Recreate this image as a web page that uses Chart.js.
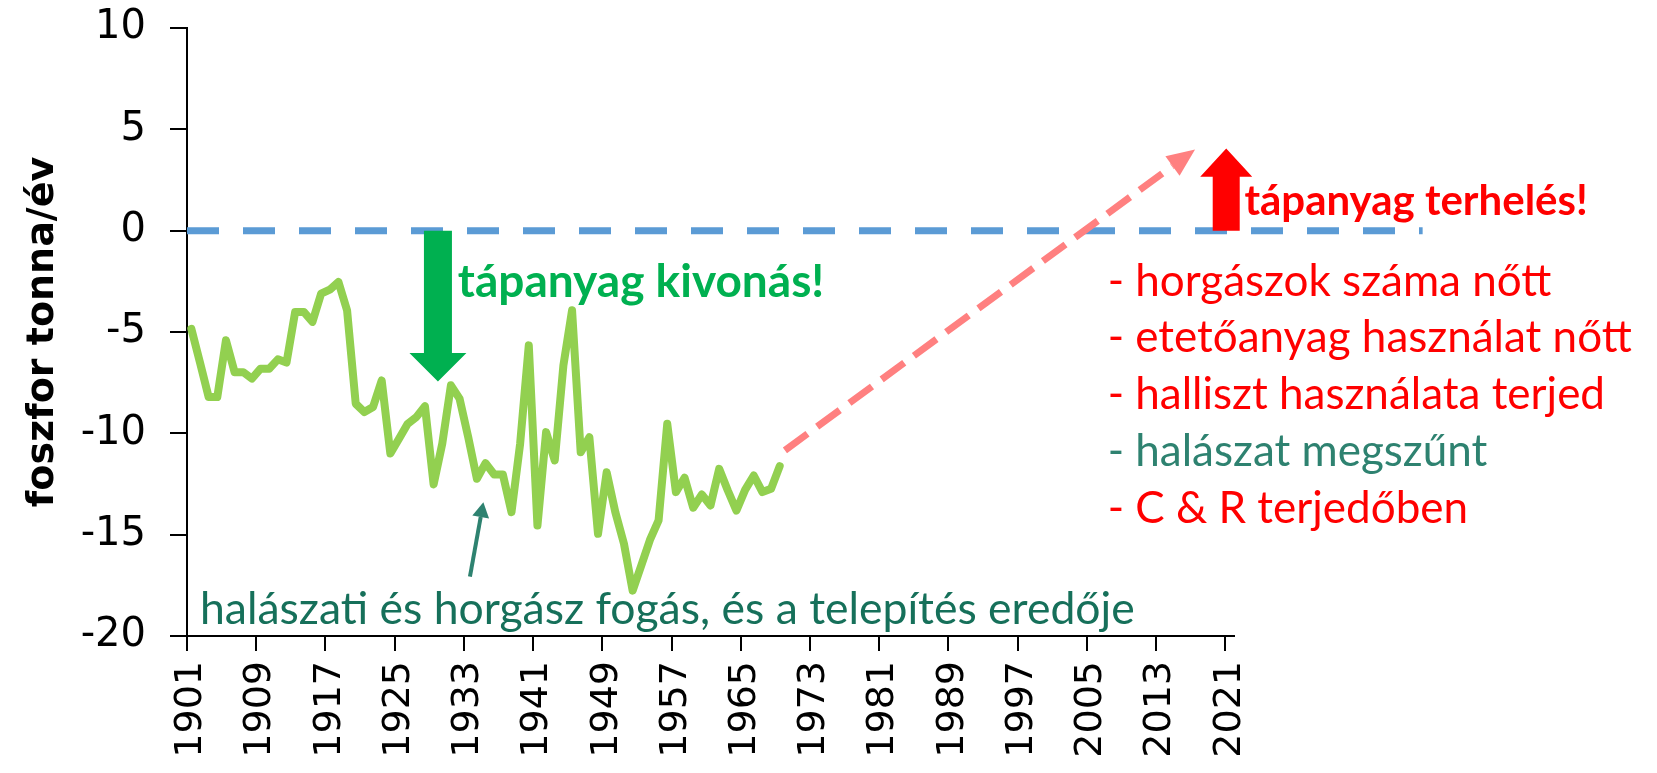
<!DOCTYPE html>
<html>
<head>
<meta charset="utf-8">
<script src="https://cdn.jsdelivr.net/npm/chart.js@4.4.1/dist/chart.umd.min.js"></script>
<style>
  html, body { margin: 0; padding: 0; background: #fff; }
  #wrap { width: 1657px; height: 773px; }
</style>
</head>
<body>
<div id="wrap"><canvas id="chart" width="1657" height="773"></canvas></div>
<script>
// foszfor mérleg, tonna/év (leolvasva)
const firstYear = 1901;
const lastYear = 2021;
const tickYears = [1901, 1909, 1917, 1925, 1933, 1941, 1949, 1957, 1965, 1973, 1981, 1989, 1997, 2005, 2013, 2021];
const yTicks = [-20, -15, -10, -5, 0, 5, 10];

// 1901 - 1969
const phosphorus = [
    -4.84, -6.5, -8.21, -8.21, -5.41, -6.98, -6.98, -7.3, -6.81, -6.81,
    -6.35, -6.51, -4.01, -4.01, -4.5, -3.11, -2.91, -2.53, -3.93, -8.54,
    -8.95, -8.7, -7.39, -11.0, -10.27, -9.53, -9.2, -8.66, -12.52, -10.51,
    -7.63, -8.29, -10.19, -12.24, -11.47, -12.03, -12.03, -13.89, -10.51, -5.66,
    -14.55, -9.94, -11.34, -6.65, -3.93, -10.93, -10.19, -14.96, -11.92, -13.89,
    -15.45, -17.76, -16.52, -15.26, -14.3, -9.53, -12.9, -12.19, -13.67, -13.02,
    -13.56, -11.75, -12.82, -13.81, -12.79, -12.08, -12.9, -12.74, -11.62
];

const years = [];
for (let y = firstYear; y <= lastYear; y++) years.push(y);

const yTitle = 'foszfor tonna/év';
const downLabel = 'tápanyag kivonás!';
const upLabel = 'tápanyag terhelés!';
const listLines = [
    '- horgászok száma nőtt',
    '- etetőanyag használat nőtt',
    '- halliszt használata terjed',
    '- halászat megszűnt',
    '- C & R terjedőben'
];
const listColors = ['#FF0000', '#FF0000', '#FF0000', '#2E8270', '#FF0000'];
const bottomLabel = 'halászati és horgász fogás, és a telepítés eredője';

// annotation anchors in data units: [year, value]
const zeroLine = [[1900.5, 0], [2043.3, 0]];
const trendArrow = [[1969.6, -10.84], [2017.0, 4.01]];
const downArrow = { year: 1929.5, from: 0, head: -6.04, tip: -7.44 };
const upArrow = { year: 2020.6, from: 0, head: 2.66, tip: 4.06 };
const catchArrow = [[1933.2, -17.07], [1934.75, -13.4]];
const downLabelAt = [1931.8, -3.25];
const upLabelAt = [2022.7, 0.75];
const listAt = [2006.9, -3.2];
const listStep = 2.8;
const bottomLabelAt = [1902.0, -19.4];

const font = 'Lato, "Open Sans", sans-serif';
const tickFont = '"DejaVu Sans", sans-serif';

function drawBlockArrow(ctx, cx, y0, yHead, yTip, shaftW, headW, color) {
    ctx.save();
    ctx.fillStyle = color;
    ctx.beginPath();
    ctx.moveTo(cx - shaftW / 2, y0);
    ctx.lineTo(cx + shaftW / 2, y0);
    ctx.lineTo(cx + shaftW / 2, yHead);
    ctx.lineTo(cx + headW / 2, yHead);
    ctx.lineTo(cx, yTip);
    ctx.lineTo(cx - headW / 2, yHead);
    ctx.lineTo(cx - shaftW / 2, yHead);
    ctx.closePath();
    ctx.fill();
    ctx.restore();
}

function drawLineArrow(ctx, x0, y0, x1, y1, opts) {
    const ang = Math.atan2(y1 - y0, x1 - x0);
    const bx = x1 - Math.cos(ang) * opts.headLen;
    const by = y1 - Math.sin(ang) * opts.headLen;
    ctx.save();
    ctx.strokeStyle = opts.color;
    ctx.lineWidth = opts.width;
    ctx.setLineDash(opts.dash || []);
    ctx.beginPath();
    ctx.moveTo(x0, y0);
    ctx.lineTo(bx, by);
    ctx.stroke();
    ctx.setLineDash([]);
    ctx.fillStyle = opts.color;
    ctx.beginPath();
    ctx.moveTo(x1, y1);
    ctx.lineTo(bx + Math.sin(ang) * opts.headW / 2, by - Math.cos(ang) * opts.headW / 2);
    ctx.lineTo(bx - Math.sin(ang) * opts.headW / 2, by + Math.cos(ang) * opts.headW / 2);
    ctx.closePath();
    ctx.fill();
    ctx.restore();
}

const annotations = {
    id: 'annotations',
    afterDraw(chart) {
        const ctx = chart.ctx;
        const xs = chart.scales.x;
        const ys = chart.scales.y;
        const px = yr => xs.getPixelForValue(yr - firstYear);
        const py = v => ys.getPixelForValue(v);

        // zero line
        ctx.save();
        ctx.strokeStyle = '#5B9BD5';
        ctx.lineWidth = 7;
        ctx.setLineDash([32, 24]);
        ctx.beginPath();
        ctx.moveTo(px(zeroLine[0][0]), py(zeroLine[0][1]));
        ctx.lineTo(px(zeroLine[1][0]), py(zeroLine[1][1]));
        ctx.stroke();
        ctx.restore();

        // trend arrow
        drawLineArrow(ctx, px(trendArrow[0][0]), py(trendArrow[0][1]), px(trendArrow[1][0]), py(trendArrow[1][1]),
            { color: '#FF8080', width: 7, dash: [28, 12], headLen: 28, headW: 24 });

        // block arrows
        drawBlockArrow(ctx, px(downArrow.year), py(downArrow.from), py(downArrow.head), py(downArrow.tip), 28, 57, '#00B050');
        drawBlockArrow(ctx, px(upArrow.year), py(upArrow.from), py(upArrow.head), py(upArrow.tip), 27, 52, '#FF0000');

        // catch arrow
        drawLineArrow(ctx, px(catchArrow[0][0]), py(catchArrow[0][1]), px(catchArrow[1][0]), py(catchArrow[1][1]),
            { color: '#2E8270', width: 4, headLen: 15, headW: 17 });

        ctx.save();
        ctx.textAlign = 'left';
        ctx.textBaseline = 'alphabetic';
        ctx.font = 'bold 46px ' + font;
        ctx.fillStyle = '#00B050';
        ctx.fillText(downLabel, px(downLabelAt[0]), py(downLabelAt[1]));
        ctx.font = 'bold 42px ' + font;
        ctx.fillStyle = '#FF0000';
        ctx.fillText(upLabel, px(upLabelAt[0]), py(upLabelAt[1]));

        ctx.font = '44px ' + font;
        listLines.forEach((line, i) => {
            ctx.fillStyle = listColors[i];
            ctx.fillText(line, px(listAt[0]), py(listAt[1] - i * listStep));
        });

        ctx.font = '44.5px ' + font;
        ctx.fillStyle = '#16705A';
        ctx.fillText(bottomLabel, px(bottomLabelAt[0]), py(bottomLabelAt[1]));
        ctx.restore();
    }
};

const ctx = document.getElementById('chart').getContext('2d');
const chart = new Chart(ctx, {
    type: 'line',
    data: {
        labels: years,
        datasets: [{
            data: phosphorus,
            borderColor: '#92D050',
            borderWidth: 8,
            pointRadius: 0,
            tension: 0,
            borderJoinStyle: 'round',
            borderCapStyle: 'round',
            fill: false
        }]
    },
    options: {
        responsive: false,
        animation: false,
        layout: { padding: { top: 28, right: 423, left: 0, bottom: 0 } },
        plugins: {
            legend: { display: false },
            tooltip: { enabled: false }
        },
        scales: {
            x: {
                type: 'category',
                offset: true,
                border: { color: '#000', width: 2 },
                grid: {
                    offset: true,
                    drawOnChartArea: false,
                    tickLength: 15,
                    lineWidth: 2,
                    tickWidth: 2,
                    tickColor: c => (c.index % 8 === 0 && c.index < years.length) ? '#000' : 'rgba(0,0,0,0)',
                    color: 'rgba(0,0,0,0)'
                },
                ticks: {
                    autoSkip: false,
                    minRotation: 90,
                    maxRotation: 90,
                    padding: 10,
                    color: '#000',
                    font: { family: tickFont, size: 38 },
                    callback: (v, i) => tickYears.includes(years[i]) ? String(years[i]) : ''
                },
                afterFit: s => { s.height = 137; }
            },
            y: {
                min: -20,
                max: 10,
                border: { color: '#000', width: 2 },
                grid: { drawOnChartArea: false, tickLength: 17, tickColor: '#000', lineWidth: 2 },
                afterBuildTicks: s => { s.ticks = yTicks.map(v => ({ value: v })); },
                ticks: {
                    padding: 24,
                    color: '#000',
                    font: { family: tickFont, size: 40 }
                },
                title: {
                    display: true,
                    text: yTitle,
                    color: '#000',
                    font: { family: tickFont, size: 38, weight: 'bold' },
                    padding: { top: 20, bottom: 0 }
                },
                afterFit: s => {
                    s.width = 187;
                    s.paddingTop = 0;
                    s.paddingBottom = 0;
                }
            }
        }
    },
    plugins: [annotations]
});
</script>
</body>
</html>
